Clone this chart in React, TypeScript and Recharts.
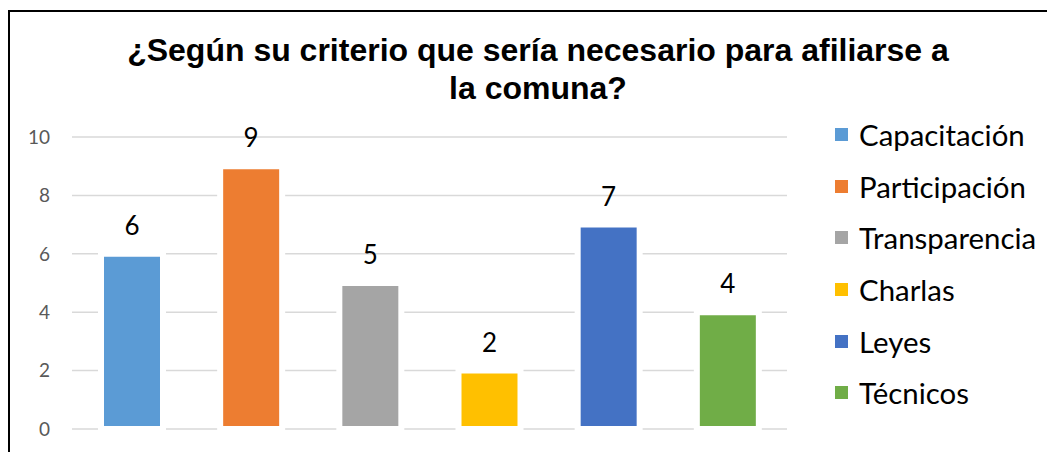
import React from 'react';
import { BarChart, Bar, XAxis, YAxis, CartesianGrid, Cell, LabelList } from 'recharts';

const categories = ['Capacitación', 'Participación', 'Transparencia', 'Charlas', 'Leyes', 'Técnicos'];
const values = [6, 9, 5, 2, 7, 4];
const colors = ['#5B9BD5', '#ED7D31', '#A5A5A5', '#FFC000', '#4472C4', '#70AD47'];
const yTicks = [0, 2, 4, 6, 8, 10];

const data = categories.map((name, i) => ({ name, value: values[i] }));

// legend built from the same category / colour lists
const LegendBox = () => (
    <div style={{ position: 'absolute', left: 827, top: 101, display: 'flex', flexDirection: 'column' }}>
        {categories.map((name, i) => (
            <div key={name} style={{ height: 51.6, display: 'flex', alignItems: 'center' }}>
                <span style={{ width: 13, height: 13, background: colors[i], marginRight: 11, display: 'inline-block' }} />
                <span style={{ fontFamily: 'Lato', fontSize: 29.4, color: '#000' }}>{name}</span>
            </div>
        ))}
    </div>
);

export default function App() {
    return (
        <div style={{ position: 'relative', width: 1047, height: 444 }}>
            <div
                style={{
                    position: 'absolute',
                    left: 0,
                    top: 2,
                    width: 1047,
                    height: 442,
                    borderTop: '2px solid #000',
                    borderLeft: '2px solid #000',
                    boxSizing: 'border-box',
                }}
            />
            <div
                style={{
                    position: 'absolute',
                    left: 0,
                    top: 23,
                    width: 1060,
                    textAlign: 'center',
                    fontFamily: 'Liberation Sans',
                    fontWeight: 'bold',
                    fontSize: 32,
                    lineHeight: '38px',
                    color: '#000',
                }}
            >
                ¿Según su criterio que sería necesario para afiliarse a
                <br />
                la comuna?
            </div>
            <BarChart
                width={1047}
                height={444}
                data={data}
                margin={{ top: 129, right: 268, left: 0, bottom: 23 }}
                barCategoryGap={0}
                style={{ position: 'absolute', left: 0, top: 0 }}
            >
                <CartesianGrid vertical={false} stroke="#d9d9d9" strokeWidth={1.5} />
                <XAxis dataKey="name" hide />
                <YAxis
                    width={64}
                    domain={[0, 10]}
                    ticks={yTicks}
                    axisLine={false}
                    tickLine={false}
                    tickMargin={16}
                    tick={{ fill: '#595959', fontSize: 19, fontFamily: 'Lato' }}
                />
                <Bar dataKey="value" barSize={62} stroke="#fff" strokeWidth={6} isAnimationActive={false}>
                    {data.map((d, i) => (
                        <Cell key={d.name} fill={colors[i]} />
                    ))}
                    <LabelList
                        dataKey="value"
                        position="top"
                        offset={19}
                        style={{ fill: '#000', fontSize: 26, fontFamily: 'Lato' }}
                    />
                </Bar>
            </BarChart>
            <LegendBox />
        </div>
    );
}
